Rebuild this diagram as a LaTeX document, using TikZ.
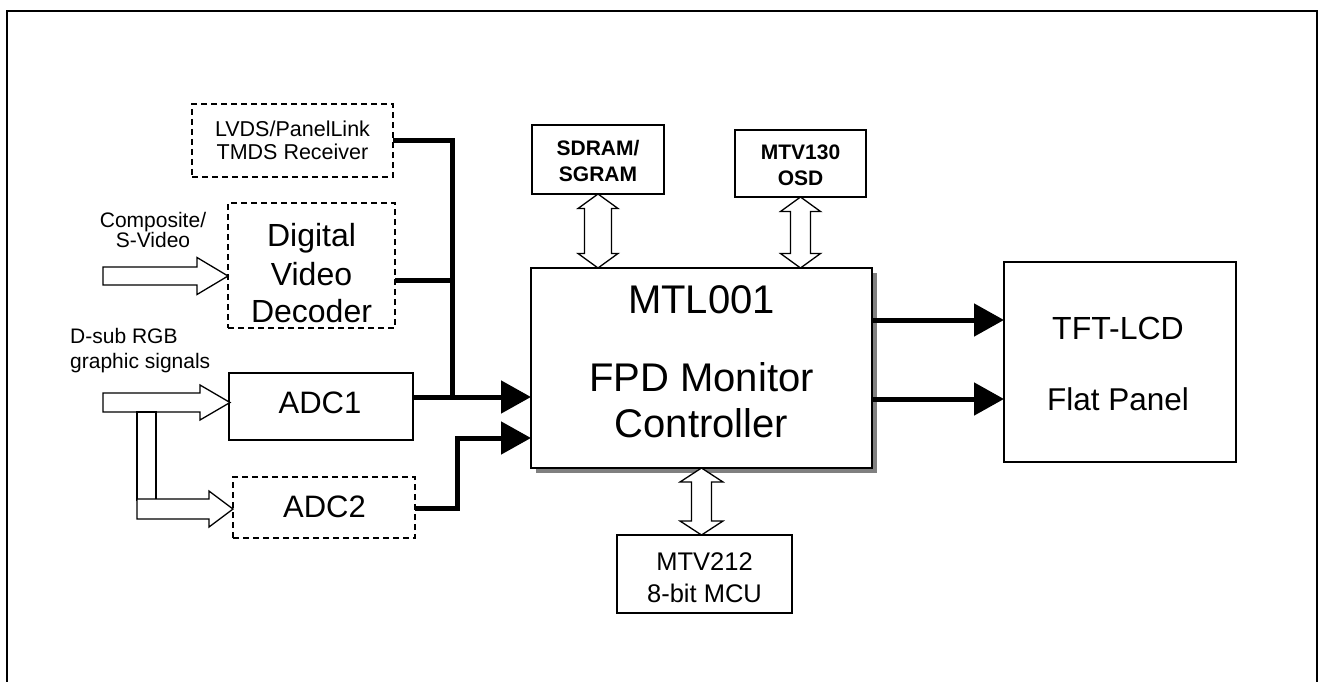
\documentclass[tikz,border=0pt]{standalone}
\usepackage{fontspec}
\setmainfont{Liberation Sans}
\usetikzlibrary{arrows.meta,calc,shadows}
\newcommand{\myfs}[1]{\fontsize{#1pt}{#1pt}\selectfont}
% horizontal hollow arrow pointing right: #1 start (centre of tail), #2 total length, #3 half shaft, #4 half head, #5 head length
\newcommand{\hollowRight}[5]{%
  \draw[hollow] (#1) ++(0,-#3) -- ++({#2-#5},0) -- ++(0,{#3-#4}) -- ++(#5,#4)
     -- ++(-#5,#4) -- ++(0,{#3-#4}) -- ++({#5-#2},0) -- cycle;}
% vertical hollow double arrow: #1 top tip, #2 total length, #3 half shaft, #4 half head, #5 head length
\newcommand{\hollowUD}[5]{%
  \draw[hollow] (#1) -- ++(#4,#5) -- ++({#3-#4},0) -- ++(0,{#2-2*#5}) -- ++({#4-#3},0)
     -- ++(-#4,#5) -- ++(-#4,-#5) -- ++({#4-#3},0) -- ++(0,{-(#2-2*#5)}) -- ++({#3-#4},0) -- cycle;}
\begin{document}
\begin{tikzpicture}[x=1pt,y=-1pt,
  solidbox/.style={draw, line width=1.5pt, inner sep=0pt, outer sep=0pt, fill=white},
  dashbox/.style={solidbox, dash pattern=on 6pt off 4pt},
  txt/.style={inner sep=0pt, anchor=base},
  bus/.style={line width=5pt, line join=miter},
  busarrow/.style={bus, -{Triangle[length=30pt,width=32pt]}},
  hollow/.style={draw, fill=white, line width=1.3pt, line join=miter},
]
\useasboundingbox (0,0) rectangle (1325,682);
\fill[white] (0,0) rectangle (1325,682);
% frame
\draw[line width=2pt] (7,682) -- (7,11) -- (1317,11) -- (1317,682);

% boxes
\node[dashbox, minimum width=201pt, minimum height=73pt] (lvds) at (292.5,140.5) {};
\node[dashbox, minimum width=167pt, minimum height=125pt] (dvd) at (311.5,265.5) {};
\node[solidbox, minimum width=184pt, minimum height=67pt] (adc1) at (321,406.5) {};
\node[dashbox, minimum width=182pt, minimum height=61pt] (adc2) at (324,507.5) {};
\node[solidbox, minimum width=132pt, minimum height=69pt] (sdram) at (598,159.5) {};
\node[solidbox, minimum width=131pt, minimum height=67pt] (osd) at (800.5,163.5) {};
\node[solidbox, line width=2pt, minimum width=341pt, minimum height=200pt,
      drop shadow={shadow xshift=5pt, shadow yshift=-5pt, fill=gray, opacity=1}] (mtl) at (701.5,368) {};
\node[solidbox, minimum width=175pt, minimum height=78pt] (mcu) at (704.5,574) {};
\node[solidbox, minimum width=232pt, minimum height=200pt] (tft) at (1120,362) {};

% texts
\node[txt] (lvdsa) at (292.5,137) {\myfs{21.5}LVDS/PanelLink};
\node[txt] (lvdsb) at (292.5,160) {\myfs{21.5}TMDS Receiver};
\node[txt] (compa) at (153,227) {\myfs{21}Composite/};
\node[txt] (compb) at (153,247) {\myfs{21}S-Video};
\node[txt, anchor=base west] (dsuba) at (70,343) {\myfs{21}D-sub RGB};
\node[txt, anchor=base west] (dsubb) at (70,368) {\myfs{21}graphic signals};
\node[txt] (dvda) at (311.5,246) {\myfs{32}Digital};
\node[txt] (dvdb) at (311.5,285) {\myfs{32}Video};
\node[txt] (dvdc) at (311.5,322) {\myfs{32}Decoder};
\node[txt] (adc1t) at (320,413) {\myfs{31}ADC1};
\node[txt] (adc2t) at (324.5,517) {\myfs{31}ADC2};
\node[txt] (sdrama) at (598,155) {\myfs{21}\bfseries SDRAM/};
\node[txt] (sdramb) at (598,181) {\myfs{21}\bfseries SGRAM};
\node[txt] (osda) at (800.5,160) {\myfs{21}\bfseries MTV130};
\node[txt] (osdb) at (800.5,185) {\myfs{21}\bfseries OSD};
\node[txt] (mtla) at (701.5,313) {\myfs{40}MTL001};
\node[txt] (mtlb) at (701.5,391) {\myfs{40}FPD Monitor};
\node[txt] (mtlc) at (701.5,437) {\myfs{40}Controller};
\node[txt] (mcua) at (704.5,570) {\myfs{25.5}MTV212};
\node[txt] (mcub) at (704.5,602) {\myfs{25.5}8-bit MCU};
\node[txt] (tfta) at (1118,339) {\myfs{32}TFT-LCD};
\node[txt] (tftb) at (1118,410) {\myfs{31.5}Flat Panel};

% thick buses
\coordinate (j1) at (452,397);
\coordinate (j2) at (452,280);
\coordinate (j3) at (457,508);
\coordinate (j4) at (457,438);
\draw[bus] (lvds.east) -| (j1);
\draw[bus] (dvd.east |- j2) -- (j2);
\draw[busarrow] (adc1.east |- j1) -- (mtl.west |- j1);
\draw[busarrow] (adc2.east |- j3) -- (j3) -- (j4) -- (mtl.west |- j4);
\draw[busarrow] (mtl.east |- 0,320) -- (tft.west |- 0,320);
\draw[busarrow] (mtl.east |- 0,399) -- (tft.west |- 0,399);

% hollow arrows
\coordinate (compin) at (103,276);
\coordinate (dsubin) at (103,402.5);
\coordinate (branch) at (137,509);
\hollowRight{compin}{125}{9}{18.5}{31}
\hollowRight{dsubin}{127}{9.5}{17.5}{30}
\draw[hollow] (137,412) rectangle (156,500);
\hollowRight{branch}{96}{10}{18}{24}
\hollowUD{sdram.south}{74}{13.5}{20}{14.5}
\hollowUD{osd.south}{71}{10}{20}{14.5}
\hollowUD{mtl.south}{67}{10}{21.5}{14}
\end{tikzpicture}
\end{document}
